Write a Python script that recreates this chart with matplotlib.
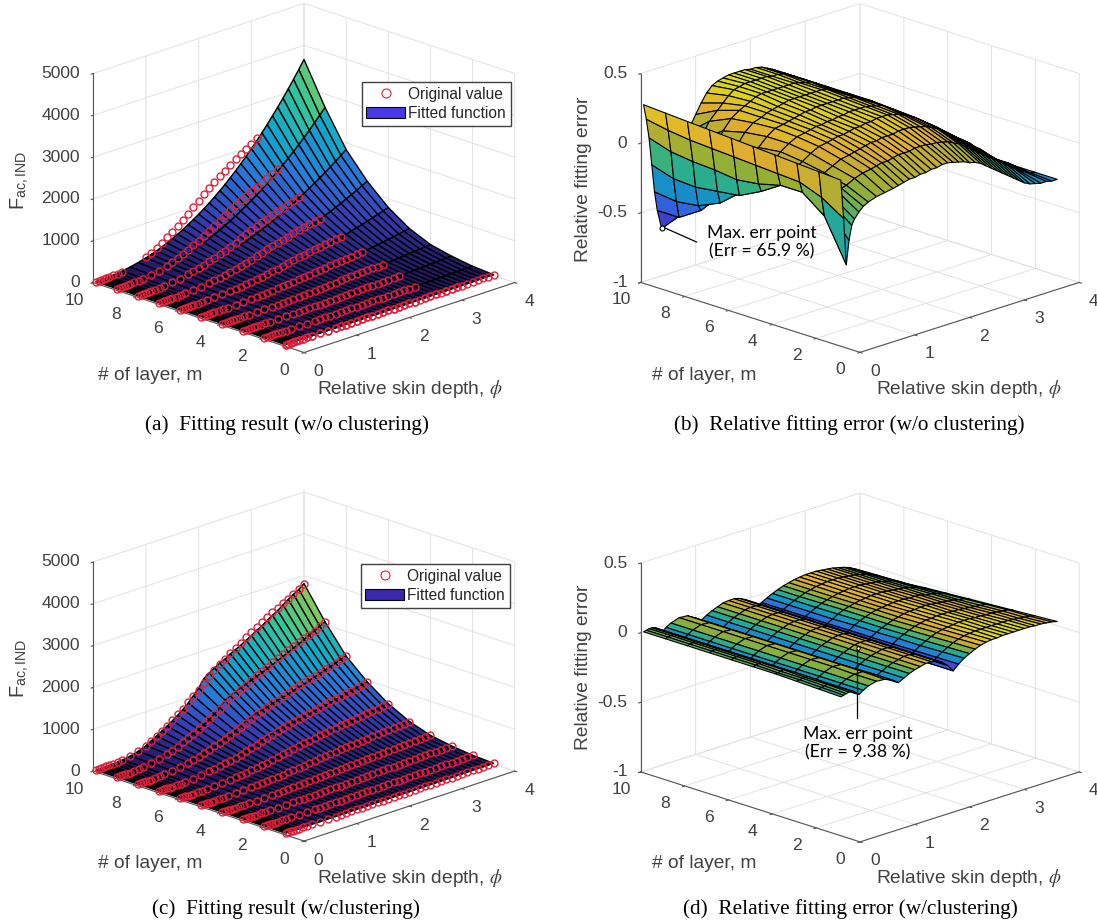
import numpy as np
import matplotlib
matplotlib.use('Agg')
import matplotlib.pyplot as plt
from matplotlib.colors import LinearSegmentedColormap
from matplotlib.lines import Line2D
from matplotlib.patches import Patch

plt.rcParams['font.family'] = 'Liberation Sans'
plt.rcParams['mathtext.fontset'] = 'stix'
plt.rcParams['axes.unicode_minus'] = False

# values (rows: m = 1..10, columns: phi)
layers = [1, 2, 3, 4, 5, 6, 7, 8, 9, 10]
phi = [0.05, 0.1, 0.15, 0.2, 0.25, 0.3, 0.38, 0.46, 0.55, 0.7, 0.85, 1.0,
       1.1, 1.2, 1.3, 1.4, 1.5, 1.6, 1.7, 1.8, 1.9, 2.0, 2.1, 2.2, 2.3, 2.4, 2.5,
       2.6, 2.7, 2.8, 2.9, 3.0, 3.1, 3.2, 3.3, 3.4, 3.5, 3.6, 3.7, 3.8, 3.9, 4.0]

original = [
    [0,0,0,0,0,0,0,0,0,0,1,1,1,1,2,2,2,3,3,3,4,4,5,5,6,6,7,7,8,9,10,10,11,12,13,13,14,15,16,17,18,19],
    [0,0,0,0,0,0,0,0,1,1,2,3,3,4,6,6,7,8,9,12,13,14,15,17,18,20,22,23,24,25,27,28,29,31,32,33,34,36,37,38,40,42],
    [0,0,0,0,0,0,1,1,2,3,5,7,9,11,13,16,18,21,25,27,31,35,39,43,46,51,54,57,61,63,67,70,73,76,78,81,84,86,89,92,96,99],
    [0,0,0,0,1,1,1,2,3,6,10,13,17,21,25,30,36,41,47,55,62,68,76,83,91,98,104,111,116,121,127,132,137,143,148,153,157,161,167,171,177,183],
    [0,0,0,1,1,2,3,4,7,12,18,28,34,41,49,58,69,80,91,105,119,132,147,161,175,190,200,213,223,234,243,255,265,273,284,292,300,309,317,327,339,347],
    [0,0,1,1,2,3,5,7,11,20,32,47,59,73,88,104,121,142,162,185,208,232,258,283,308,329,350,374,392,409,427,447,465,479,497,512,526,541,554,569,588,603],
    [0,0,1,2,2,3,6,11,17,31,52,75,95,117,140,168,197,227,260,296,334,374,415,453,487,521,555,591,619,648,677,706,736,757,788,810,831,854,878,900,932,954],
    [0,1,1,2,3,4,8,14,23,44,73,110,140,173,212,254,296,340,389,442,497,557,610,666,727,777,816,871,912,953,997,1039,1084,1115,1159,1193,1224,1258,1291,1325,1371,1405],
    [0,1,2,3,4,6,10,17,30,58,99,151,196,250,310,369,437,501,573,654,735,811,901,984,1057,1131,1189,1268,1327,1389,1452,1514,1577,1624,1688,1737,1783,1832,1881,1930,1996,2046],
    [0,1,3,4,6,8,13,20,33,67,118,188,252,328,410,497,587,686,783,892,1005,1108,1230,1344,1444,1545,1624,1732,1813,1897,1982,2067,2155,2218,2305,2372,2435,2502,2568,2635,2710,2790],
]

fit_plain = [
    [0,0,0,0,0,0,0,0,0,0,1,1,1,1,2,2,2,3,3,3,4,4,5,5,6,6,7,8,8,9,10,11,11,12,13,14,15,16,17,18,19,20],
    [0,0,0,0,0,0,0,0,1,1,2,3,3,4,5,5,6,7,8,10,11,12,13,15,16,18,20,21,23,25,27,29,31,34,36,39,41,44,46,49,52,55],
    [0,0,0,0,0,0,1,1,2,3,4,6,8,9,11,13,15,17,20,22,25,28,31,35,38,42,46,50,55,59,64,69,74,80,85,91,97,103,109,116,123,130],
    [0,0,0,0,1,1,1,2,3,5,8,11,14,17,20,24,28,32,36,42,47,52,58,64,71,78,85,93,101,109,118,127,137,147,157,168,179,190,202,214,227,240],
    [0,0,0,1,1,2,3,4,6,10,15,22,27,32,38,45,53,61,69,79,89,99,110,122,135,148,162,177,192,208,224,242,260,278,298,318,339,361,383,406,430,455],
    [0,0,1,1,2,3,5,7,10,17,26,37,46,56,67,78,91,105,120,137,154,172,191,212,234,257,280,307,333,360,389,420,451,484,517,553,589,627,665,705,747,790],
    [0,0,1,2,3,4,7,11,16,27,42,59,73,89,105,124,144,166,190,216,244,273,303,335,370,406,444,485,526,570,616,664,714,765,819,875,931,991,1053,1116,1183,1250],
    [0,1,1,3,4,6,10,16,23,40,61,87,108,130,155,183,213,245,280,318,358,401,445,493,545,598,653,714,775,839,907,977,1051,1126,1205,1288,1371,1459,1549,1643,1741,1840],
    [0,1,2,4,6,9,15,23,34,58,89,127,157,190,226,266,310,356,407,464,522,584,649,718,793,871,951,1040,1128,1222,1321,1423,1530,1640,1755,1876,1997,2125,2257,2393,2535,2680],
    [0,1,3,5,8,12,21,31,46,79,122,173,214,259,308,363,423,487,556,633,714,798,886,981,1083,1190,1299,1420,1541,1669,1804,1943,2090,2240,2397,2562,2727,2902,3082,3268,3462,3660],
]

fit_clustered = [
    [0,0,0,0,0,0,0,0,0,0,1,1,1,1,2,2,2,3,3,3,4,4,5,5,6,6,7,7,8,9,10,10,11,12,13,13,14,15,16,17,18,19],
    [0,0,0,0,0,0,0,0,1,1,2,3,3,4,6,6,7,8,9,12,13,15,16,18,19,20,22,23,24,24,26,27,28,30,31,32,33,35,37,38,40,42],
    [0,0,0,0,0,0,1,1,2,3,5,7,9,11,13,16,17,20,24,26,31,36,42,46,48,52,54,56,60,61,65,67,70,73,75,79,82,85,89,92,96,100],
    [0,0,0,0,1,1,1,2,3,6,10,13,18,22,25,30,35,40,46,54,62,70,82,88,95,100,105,110,114,117,123,127,132,137,143,148,153,159,166,171,177,184],
    [0,0,0,1,1,2,3,4,7,12,18,29,36,42,49,57,67,78,88,103,119,137,159,171,182,194,201,211,219,227,234,245,254,262,274,283,292,304,315,327,339,350],
    [0,0,1,1,2,3,5,7,11,20,32,48,62,75,88,103,118,138,157,181,208,240,280,300,320,336,352,370,384,397,412,429,446,460,480,497,513,533,551,569,588,606],
    [0,0,1,2,2,3,6,11,17,31,52,77,100,120,141,166,192,220,252,290,334,387,450,480,506,531,558,585,607,629,653,678,707,727,760,786,810,841,874,900,932,960],
    [0,1,1,2,3,4,8,14,23,44,73,112,147,177,213,251,289,330,377,433,497,576,662,706,756,793,820,862,894,924,962,997,1041,1070,1118,1157,1193,1239,1285,1325,1371,1410],
    [0,1,2,3,4,6,10,17,30,58,99,154,206,256,312,365,426,486,556,641,735,839,978,1043,1099,1154,1195,1255,1300,1347,1401,1453,1514,1559,1629,1685,1738,1805,1872,1930,1996,2060],
    [0,1,3,4,6,8,14,20,32,65,116,192,265,336,412,492,572,665,760,874,1005,1147,1335,1425,1502,1576,1632,1715,1777,1840,1913,1984,2069,2130,2224,2301,2374,2465,2555,2635,2710,2810],
]

err_plain = [
    [.18,-.1,-.44,-.27,-.17,-.13,-.09,-.06,-.04,-.02,-.01,0,.01,.02,.03,.03,.04,.04,.05,.05,.06,.06,.05,.04,.03,.01,0,-.02,-.05,-.08,-.11,-.14,-.17,-.2,-.23,-.26,-.28,-.29,-.3,-.3,-.31,-.31],
    [.19,0,-.14,-.09,-.05,-.02,.01,.02,.03,.06,.08,.09,.1,.11,.11,.12,.13,.13,.13,.14,.14,.14,.13,.13,.12,.11,.09,.07,.04,.01,-.02,-.05,-.08,-.11,-.14,-.17,-.2,-.23,-.26,-.28,-.3,-.31],
    [.2,.06,-.02,0,.02,.03,.04,.06,.07,.1,.13,.14,.15,.16,.17,.18,.18,.19,.19,.19,.2,.2,.2,.19,.18,.17,.15,.13,.1,.07,.04,.01,-.02,-.05,-.09,-.12,-.16,-.2,-.23,-.26,-.28,-.31],
    [.21,.07,-.02,-.02,.01,.03,.06,.08,.1,.14,.17,.18,.19,.2,.2,.21,.22,.22,.23,.23,.24,.24,.24,.23,.22,.2,.18,.16,.13,.1,.07,.04,0,-.03,-.06,-.1,-.14,-.18,-.21,-.25,-.28,-.31],
    [.22,.08,-.06,-.12,-.07,-.02,.04,.08,.12,.16,.19,.2,.21,.22,.22,.23,.23,.24,.24,.25,.25,.25,.25,.24,.23,.22,.19,.17,.14,.11,.08,.05,.02,-.02,-.05,-.09,-.13,-.17,-.21,-.24,-.27,-.31],
    [.23,.09,-.08,-.2,-.18,-.1,-.02,.05,.1,.16,.2,.21,.22,.23,.24,.25,.25,.26,.26,.26,.26,.26,.26,.25,.24,.22,.2,.18,.15,.12,.09,.06,.03,-.01,-.04,-.08,-.12,-.16,-.2,-.24,-.27,-.31],
    [.24,.1,-.06,-.22,-.31,-.25,-.12,-.02,.06,.14,.19,.21,.23,.24,.25,.26,.27,.27,.27,.27,.27,.27,.27,.26,.24,.22,.2,.18,.15,.12,.09,.06,.03,-.01,-.04,-.08,-.12,-.16,-.2,-.24,-.27,-.31],
    [.25,.11,-.05,-.24,-.38,-.42,-.3,-.15,-.02,.1,.17,.21,.23,.25,.27,.28,.28,.28,.28,.28,.28,.28,.27,.26,.25,.23,.2,.18,.15,.12,.09,.06,.03,-.01,-.04,-.08,-.12,-.16,-.2,-.24,-.27,-.31],
    [.26,.13,-.03,-.23,-.4,-.52,-.5,-.32,-.15,0,.1,.16,.2,.24,.27,.28,.29,.29,.29,.29,.29,.28,.28,.27,.25,.23,.2,.18,.15,.12,.09,.06,.03,-.01,-.04,-.08,-.12,-.16,-.2,-.24,-.27,-.31],
    [.27,.16,.02,-.18,-.38,-.52,-.66,-.55,-.38,-.18,-.03,.08,.15,.21,.25,.27,.28,.29,.29,.29,.29,.28,.28,.27,.25,.23,.2,.18,.15,.12,.09,.06,.03,-.01,-.04,-.08,-.12,-.16,-.2,-.24,-.27,-.31],
]

err_clustered = [
    [-.015,-.01,-.005,0,0,-.01,-.04,-.02,0,.015,.01,-.015,-.045,-.025,-.005,.01,.02,.03,.03,.02,0,-.035,-.086,-.05,-.02,0,.02,.035,.045,.05,.05,.055,.055,.055,.055,.055,.055,.05,.05,.045,.04,.03],
    [-.01,-.005,0,.005,0,-.01,-.04,-.02,0,.015,.015,-.015,-.045,-.025,-.005,.01,.02,.03,.03,.02,0,-.035,-.086,-.052,-.025,-.005,.015,.03,.04,.045,.05,.05,.05,.05,.05,.05,.05,.045,.04,.035,.03,.02],
    [-.005,0,.005,.005,.005,-.01,-.04,-.02,0,.02,.015,-.02,-.05,-.025,-.005,.01,.02,.03,.03,.02,0,-.035,-.086,-.054,-.03,-.01,.01,.025,.035,.04,.045,.05,.05,.05,.045,.045,.04,.04,.035,.03,.025,.01],
    [0,0,.005,.01,.005,-.01,-.045,-.02,0,.02,.015,-.02,-.05,-.025,-.005,.01,.025,.03,.03,.02,0,-.035,-.086,-.056,-.03,-.012,.005,.02,.03,.04,.04,.045,.045,.045,.04,.04,.035,.03,.025,.02,.015,0],
    [0,.005,.01,.01,.005,-.01,-.045,-.02,0,.02,.015,-.02,-.05,-.025,-.005,.01,.025,.03,.03,.02,0,-.035,-.086,-.058,-.035,-.015,0,.015,.025,.035,.04,.04,.045,.045,.04,.035,.03,.025,.02,.01,.005,-.01],
    [0,.005,.01,.01,.005,-.01,-.045,-.02,0,.02,.015,-.02,-.05,-.025,-.005,.01,.025,.03,.03,.02,0,-.035,-.086,-.058,-.035,-.015,0,.015,.025,.03,.035,.04,.04,.04,.035,.035,.03,.02,.015,.005,-.005,-.02],
    [0,.005,.01,.01,.005,-.01,-.045,-.02,0,.02,.015,-.02,-.05,-.025,-.005,.01,.025,.03,.03,.02,0,-.035,-.086,-.06,-.04,-.018,0,.012,.022,.03,.035,.04,.04,.04,.035,.03,.025,.02,.01,0,-.015,-.03],
    [0,.005,.01,.01,.005,-.01,-.045,-.02,0,.02,.015,-.02,-.05,-.025,-.005,.01,.025,.03,.03,.02,0,-.035,-.085,-.06,-.04,-.02,-.003,.01,.02,.03,.035,.04,.04,.04,.035,.03,.025,.015,.005,-.005,-.02,-.045],
    [0,.005,.01,.01,.005,-.01,-.045,-.02,0,.02,.015,-.02,-.05,-.025,-.005,.01,.025,.03,.03,.02,0,-.035,-.085,-.06,-.04,-.02,-.005,.01,.02,.03,.035,.04,.04,.04,.035,.03,.025,.015,.005,-.01,-.025,-.055],
    [0,.005,.01,.01,.005,-.01,-.045,-.02,0,.02,.015,-.02,-.05,-.025,-.005,.01,.025,.03,.03,.02,0,-.035,-.085,-.06,-.04,-.02,-.005,.01,.02,.03,.035,.04,.04,.04,.035,.03,.025,.015,.005,-.01,-.03,-.065],
]

fitted_ticks = [0, 1000, 2000, 3000, 4000, 5000]
err_ticks = [-1, -0.5, 0, 0.5]
err_tick_labels = ['-1', '-0.5', '0', '0.5']
captions = ['(a)  Fitting result (w/o clustering)', '(b)  Relative fitting error (w/o clustering)',
            '(c)  Fitting result (w/clustering)', '(d)  Relative fitting error (w/clustering)']

stops = [(0.2422, 0.1504, 0.6603), (0.2810, 0.3228, 0.9579), (0.1786, 0.5289, 0.9682),
         (0.0689, 0.6948, 0.8394), (0.2161, 0.7843, 0.5923), (0.6720, 0.7793, 0.2227),
         (0.9970, 0.7659, 0.2199), (0.9769, 0.9839, 0.0805)]
# the reference mesh is so dense that the black lines darken the faces
dark = [0.55, 0.75, 0.88, 0.95, 1, 1, 1, 1]
parula_dark = LinearSegmentedColormap.from_list('parula_dark',
    [tuple(c * f for c in s) for s, f in zip(stops, dark)])
parula_mid = LinearSegmentedColormap.from_list('parula_mid', [tuple(c * 0.88 for c in s) for s in stops])

W, H = 1097, 923
fig = plt.figure(figsize=(W / 100, H / 100), dpi=100)
PHI, M = np.meshgrid(phi, layers)


def panel(cx, cy, side, elev, aspect, zdata, zlim, zticks, zlabels, cmap, vmin, vmax, lw):
    # the axes square is placed so that the centre of the box lands on cx, cy (pixels)
    box = 1.90569 / np.linalg.norm((1, 1, aspect))
    size = side * 1.85 / box
    left = cx - 0.5135 * size
    bottom = H - cy - 0.5135 * size
    ax = fig.add_axes([left / W, bottom / H, size / W, size / H], projection='3d',
                      proj_type='ortho', computed_zorder=False)
    ax.set_box_aspect((1, 1, aspect))
    ax.view_init(elev=elev, azim=-135)
    ax.patch.set_alpha(0)
    ax.plot_surface(PHI, M, np.array(zdata), cmap=cmap, vmin=vmin, vmax=vmax,
                    rstride=1, cstride=1, edgecolor='black', linewidth=lw, zorder=1)
    ax.set_xlim(0, 4)
    ax.set_ylim(0, 10)
    ax.set_zlim(*zlim)
    ax.set_xticks([0, 1, 2, 3, 4])
    ax.set_xticklabels(['0', '1', '2', '3', '4'], va='center', ha='center')
    ax.set_yticks([0, 2, 4, 6, 8, 10])
    ax.set_yticklabels(['0', '2', '4', '6', '8', '10'], va='bottom', ha='center')
    ax.set_zticks(zticks)
    ax.set_zticklabels(zlabels, ha='right', va='center')
    for axis in (ax.xaxis, ax.yaxis, ax.zaxis):
        axis.set_pane_color((1, 1, 1, 0))
        axis.pane.set_edgecolor('none')
        axis.line.set_color('#555555')
        axis.line.set_linewidth(0.8)
        axis._axinfo['grid']['color'] = '#e2e2e2'
        axis._axinfo['grid']['linewidth'] = 0.7
        axis._axinfo['tick']['inward_factor'] = 0.12
        axis._axinfo['tick']['outward_factor'] = 0.0
    ax.tick_params(axis='both', labelsize=12.6, labelcolor='#404040', color='#555555')
    ax.tick_params(axis='x', pad=4)
    ax.tick_params(axis='y', pad=8)
    ax.tick_params(axis='z', pad=-2.5)
    return ax


def circles(ax, rows):
    for m, row, keep in rows:
        ax.plot(np.array(phi)[keep], np.full(keep.sum(), m), np.array(row)[keep], ls='none',
                marker='o', ms=5, mfc='none', mec='#e0203a', mew=1.0, zorder=3)


def legend(x0, y0, colour):
    handles = [Line2D([], [], ls='none', marker='o', ms=6.5, mfc='none', mec='#e0203a', mew=0.8),
               Patch(facecolor=colour, edgecolor='black', linewidth=0.8)]
    fig.legend(handles, ['Original value', 'Fitted function'], loc='upper left',
               bbox_to_anchor=(x0 / W, 1 - y0 / H), bbox_transform=fig.transFigure,
               borderaxespad=0, fontsize=11.2, fancybox=False, edgecolor='#404040', framealpha=1,
               labelspacing=0.3, handlelength=2.5, handletextpad=0.2, borderpad=0.3,
               labelcolor='#262626')


ax_a = panel(304, 178, 298, 19.4, 0.744, fit_plain, (0, 5000), fitted_ticks, [str(t) for t in fitted_ticks], parula_dark, 0, 5000, 1.0)
ax_b = panel(860, 178, 310, 18.6, 0.711, err_plain, (-1, 0.5), err_ticks, err_tick_labels, parula_mid, -0.66, 0.29, 0.8)
ax_c = panel(304, 666.5, 298, 19.4, 0.744, fit_clustered, (0, 5000), fitted_ticks, [str(t) for t in fitted_ticks], parula_dark, 0, 3600, 1.0)
ax_d = panel(860, 667.5, 310, 18.6, 0.711, err_clustered, (-1, 0.5), err_ticks, err_tick_labels, parula_mid, -0.09, 0.055, 0.8)

# circles are only seen where they sit above the fitted surface in (a)
orig = np.array(original)
fit = np.array(fit_plain)
phis = np.array(phi)
circles(ax_a, [(m, orig[i], (orig[i] >= fit[i]) | (phis < 0.6)) for i, m in enumerate(layers)])
circles(ax_a, [(1, orig[0], np.ones(len(phi), bool))])
circles(ax_c, [(m, orig[i], np.ones(len(phi), bool)) for i, m in enumerate(layers)])

legend(361.5, 82, '#4539e6')
legend(360.5, 564, '#3a28a8')

# axis titles
for y1, y2, x1, x2 in [(375, 389, 150.5, 410), (864, 878, 150.5, 410),
                       (375, 389, 704.6, 968.7), (864, 878, 704.6, 968.7)]:
    fig.text(x1 / W, 1 - y1 / H, '# of layer, m', ha='center', va='center', fontsize=13.8, color='#404040')
    fig.text(x2 / W, 1 - y2 / H, r'Relative skin depth, $\phi$', ha='center', va='center',
             fontsize=13.8, color='#404040')
fig.text(20 / W, 1 - 180 / H, r'F$_{\mathregular{ac,IND}}$', rotation=90, ha='center', va='center', fontsize=14.5, color='#404040')
fig.text(20 / W, 1 - 668 / H, r'F$_{\mathregular{ac,IND}}$', rotation=90, ha='center', va='center', fontsize=14.5, color='#404040')
fig.text(583 / W, 1 - 179 / H, 'Relative fitting error', rotation=90, ha='center', va='center', fontsize=13.8, color='#404040')
fig.text(583 / W, 1 - 667.5 / H, 'Relative fitting error', rotation=90, ha='center', va='center', fontsize=13.8, color='#404040')

# captions
for cap, x, y in zip(captions, [286.5, 849.7, 286, 850], [425, 425, 909, 909]):
    fig.text(x / W, 1 - y / H, cap, ha='center', va='center', family='Liberation Serif', fontsize=15.3, color='black')

# max error markers and callouts
ax_b.plot([0.38], [10], [-0.66], marker='o', ms=3.5, mfc='white', mec='black', mew=0.8, zorder=5)
ax_d.plot([1.155], [3], [0.0938], marker='o', ms=2.5, mfc='white', mec='black', mew=0.7, zorder=5)
fig.add_artist(Line2D([665 / W, 696.5 / W], [1 - 228 / H, 1 - 242 / H], color='black', lw=0.9))
fig.add_artist(Line2D([857 / W, 857 / W], [1 - 650 / H, 1 - 718 / H], color='black', lw=0.9))
fig.text(762 / W, 1 - 242 / H, 'Max. err point\n(Err = 65.9 %)', ha='center', va='center', family='Lato', fontsize=12.7, color='black')
fig.text(858 / W, 1 - 743 / H, 'Max. err point\n(Err = 9.38 %)', ha='center', va='center', family='Lato', fontsize=12.7, color='black')

fig.savefig('out.png', dpi=100)
